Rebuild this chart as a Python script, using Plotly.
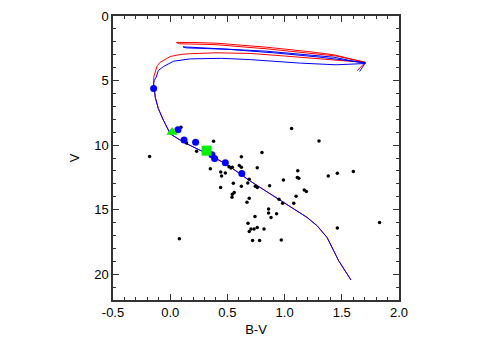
import plotly.graph_objects as go

# field stars (B-V, V)
field_bv = [-0.18, 0.094, 0.143, 0.379, 0.231, 0.351, 0.442, 0.449, 0.482, 0.514,
            0.531, 0.543, 0.604, 0.622, 0.622, 0.761, 0.802, 0.441, 0.552, 0.622,
            0.691, 0.678, 0.744, 0.761, 0.560, 0.543, 0.540, 0.691, 0.671, 0.869,
            0.990, 1.115, 1.111, 1.124, 1.172, 1.190, 1.100, 1.080, 0.951, 0.983,
            0.860, 0.860, 0.930, 0.881, 0.741, 0.680, 0.706, 0.733, 0.761, 0.820,
            0.691, 0.720, 0.781, 0.971, 1.061, 1.301, 1.382, 1.461, 1.601, 1.461,
            1.830, 0.080]
field_v = [10.89, 8.62, 9.83, 9.71, 10.48, 11.84, 12.08, 12.39, 12.17, 11.67,
           11.77, 11.72, 11.59, 11.72, 10.91, 11.76, 10.58, 13.29, 12.96, 13.19,
           12.64, 12.93, 13.19, 13.29, 13.68, 13.80, 14.05, 14.12, 14.43, 13.14,
           12.71, 11.98, 12.52, 12.57, 13.47, 13.60, 13.97, 14.51, 14.19, 14.51,
           14.95, 15.26, 15.31, 15.60, 15.54, 16.06, 16.50, 16.50, 16.38, 16.50,
           16.69, 17.40, 17.40, 17.35, 8.72, 9.69, 12.40, 12.19, 12.04, 16.42,
           15.99, 17.25]

# cluster members
member_bv = [-0.145, 0.068, 0.121, 0.222, 0.365, 0.388, 0.482, 0.626]
member_v = [5.62, 8.82, 9.61, 9.78, 10.74, 11.03, 11.36, 12.21]

tri_bv, tri_v = [0.016], [9.01]
sq_bv, sq_v = [0.318], [10.43]

# main sequence shared by both isochrones
ms_bv = [1.580, 1.472, 1.371, 1.283, 1.196, 1.079, 0.962, 0.700, 0.497, 0.322,
         0.117, 0.001, -0.058, -0.104, -0.130, -0.145]
ms_v = [20.45, 18.95, 17.15, 16.24, 15.60, 14.95, 14.26, 12.79, 11.51, 10.66,
        9.78, 9.13, 8.10, 7.17, 6.32, 5.26]

red_bv = [-0.143, -0.130, -0.113, -0.087, -0.043, 0.0, 0.088, 0.176, 0.4, 0.7,
          1.0, 1.3, 1.5, 1.706, 1.428, 1.2, 0.846, 0.409, 0.2, 0.055,
          0.08, 0.4, 0.85, 1.2, 1.45, 1.706, 1.633]
red_v = [4.69, 4.22, 3.84, 3.58, 3.33, 3.14, 2.98, 2.92, 2.85, 2.90,
         3.10, 3.30, 3.42, 3.60, 3.00, 2.75, 2.42, 2.11, 2.05, 2.05,
         2.15, 2.22, 2.55, 2.85, 3.10, 3.58, 4.25]

blue_bv = [-0.140, -0.122, -0.104, -0.058, 0.030, 0.176, 0.45, 0.70, 1.137, 1.45,
           1.706, 1.428, 0.846, 0.40, 0.112, 0.14, 0.5, 0.9, 1.3, 1.706, 1.656]
blue_v = [5.0, 4.74, 4.22, 3.91, 3.50, 3.32, 3.28, 3.38, 3.65, 3.78,
          3.68, 3.19, 2.73, 2.50, 2.39, 2.47, 2.58, 2.85, 3.18, 3.62, 4.30]

x_ticks = [-0.5, 0.0, 0.5, 1.0, 1.5, 2.0]
x_labels = ["-0.5", "0.0", "0.5", "1.0", "1.5", "2.0"]

fig = go.Figure()
fig.add_trace(go.Scatter(x=ms_bv + red_bv, y=ms_v + red_v, mode="lines",
                         line=dict(color="#ff0000", width=1)))
fig.add_trace(go.Scatter(x=ms_bv + blue_bv, y=ms_v + blue_v, mode="lines",
                         line=dict(color="#0000ff", width=1)))
fig.add_trace(go.Scatter(x=field_bv, y=field_v, mode="markers",
                         marker=dict(color="black", size=3.5)))
fig.add_trace(go.Scatter(x=member_bv, y=member_v, mode="markers",
                         marker=dict(color="#0000ff", size=7)))
fig.add_trace(go.Scatter(x=tri_bv, y=tri_v, mode="markers",
                         marker=dict(color="#00ee00", size=10, symbol="triangle-up")))
fig.add_trace(go.Scatter(x=sq_bv, y=sq_v, mode="markers",
                         marker=dict(color="#00ee00", size=10, symbol="square")))

axis_common = dict(showline=True, linecolor="#333333", linewidth=1.5, mirror="allticks",
                   ticks="inside", ticklen=6, tickcolor="#333333", showgrid=False,
                   zeroline=False, automargin=False, tickfont=dict(size=13, color="black"))
fig.update_xaxes(range=[-0.5, 2.0], tickvals=x_ticks, ticktext=x_labels,
                 minor=dict(ticks="inside", dtick=0.1, ticklen=3, tickcolor="#333333"),
                 title=dict(text="B-V", font=dict(size=13, color="black"), standoff=6),
                 **axis_common)
fig.update_yaxes(range=[22, 0], dtick=5,
                 minor=dict(ticks="inside", dtick=1, ticklen=3, tickcolor="#333333"),
                 title=dict(text="V", font=dict(size=13, color="black"), standoff=12),
                 **axis_common)
# the page body adds an 8px offset, so the figure is sized to fit inside the window
fig.update_layout(width=480, height=333, showlegend=False,
                  plot_bgcolor="white", paper_bgcolor="white",
                  font=dict(family="Liberation Sans, Arial, sans-serif"),
                  margin=dict(l=105, r=89, t=7.5, b=41))
fig.write_html("out.html")
